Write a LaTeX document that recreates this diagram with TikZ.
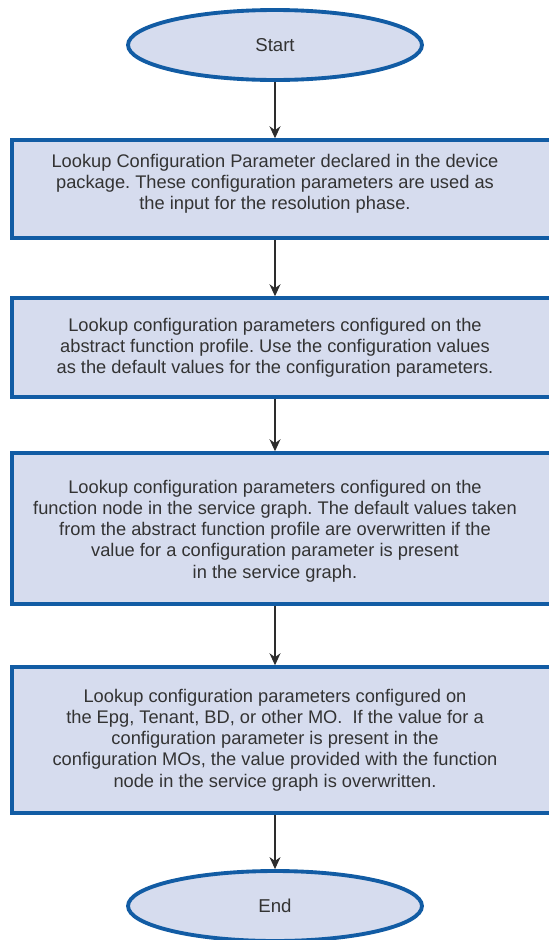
\documentclass[tikz,border=0pt]{standalone}
\usepackage{fontspec}
\setmainfont{Liberation Sans}
\usetikzlibrary{shapes.geometric,arrows.meta}

\definecolor{boxfill}{RGB}{214,220,238}
\definecolor{boxline}{RGB}{18,92,164}
\definecolor{flowgray}{RGB}{45,45,45}
\frenchspacing

\begin{document}
\begin{tikzpicture}[x=0.02cm, y=-0.02cm,
    stepbox/.style={draw=boxline, line width=2pt, fill=boxfill, minimum width=10.8cm, inner sep=0pt},
    steptext/.style={align=center, text=black!80, font=\fontsize{10.4}{12.1}\selectfont},
    terminal/.style={ellipse, draw=boxline, line width=2.2pt, fill=boxfill, minimum width=5.88cm, minimum height=1.4cm, inner sep=0pt, font=\fontsize{10.6}{12}\selectfont, text=black!80},
    flow/.style={-{Stealth[length=0.24cm, width=0.22cm]}, flowgray, line width=0.6pt}]
    \useasboundingbox (0,0) rectangle (548,940);

    % Start terminal
    \node[terminal] (start) at (275,45) {Start};

    % Step 1 - device package
    \node[stepbox, minimum height=1.96cm] (box1) at (282,189) {};
    \node[steptext] (txt1) at (275,184) {Lookup Configuration Parameter declared in the device\\
      package. These configuration parameters are used as\\
      the input for the resolution phase.};

    % Step 2 - abstract function profile
    \node[stepbox, minimum height=1.98cm] (box2) at (282,347.5) {};
    \node[steptext] (txt2) at (275,348) {Lookup configuration parameters configured on the\\
      abstract function profile. Use the configuration values\\
      as the default values for the configuration parameters.};

    % Step 3 - function node in the service graph
    \node[stepbox, minimum height=3.02cm] (box3) at (282,528.5) {};
    \node[steptext] (txt3) at (275,531) {Lookup configuration parameters configured on the\\
      function node in the service graph. The default values taken\\
      from the abstract function profile are overwritten if the\\
      value for a configuration parameter is present\\
      in the service graph.};

    % Step 4 - configuration MOs
    \node[stepbox, minimum height=2.92cm] (box4) at (282,740) {};
    \node[steptext] (txt4) at (275,740) {Lookup configuration parameters configured on\\
      the Epg, Tenant, BD, or other MO.\ \ If the value for a\\
      configuration parameter is present in the\\
      configuration MOs, the value provided with the function\\
      node in the service graph is overwritten.};

    % End terminal
    \node[terminal] (end) at (275,906) {End};

    % Flow arrows
    \draw[flow] (start.south) -- (start.south |- box1.north);
    \draw[flow] (txt1 |- box1.south) -- (txt2 |- box2.north);
    \draw[flow] (txt2 |- box2.south) -- (txt3 |- box3.north);
    \draw[flow] (txt3 |- box3.south) -- (txt4 |- box4.north);
    \draw[flow] (txt4 |- box4.south) -- (end.north);
  \end{tikzpicture}
\end{document}
